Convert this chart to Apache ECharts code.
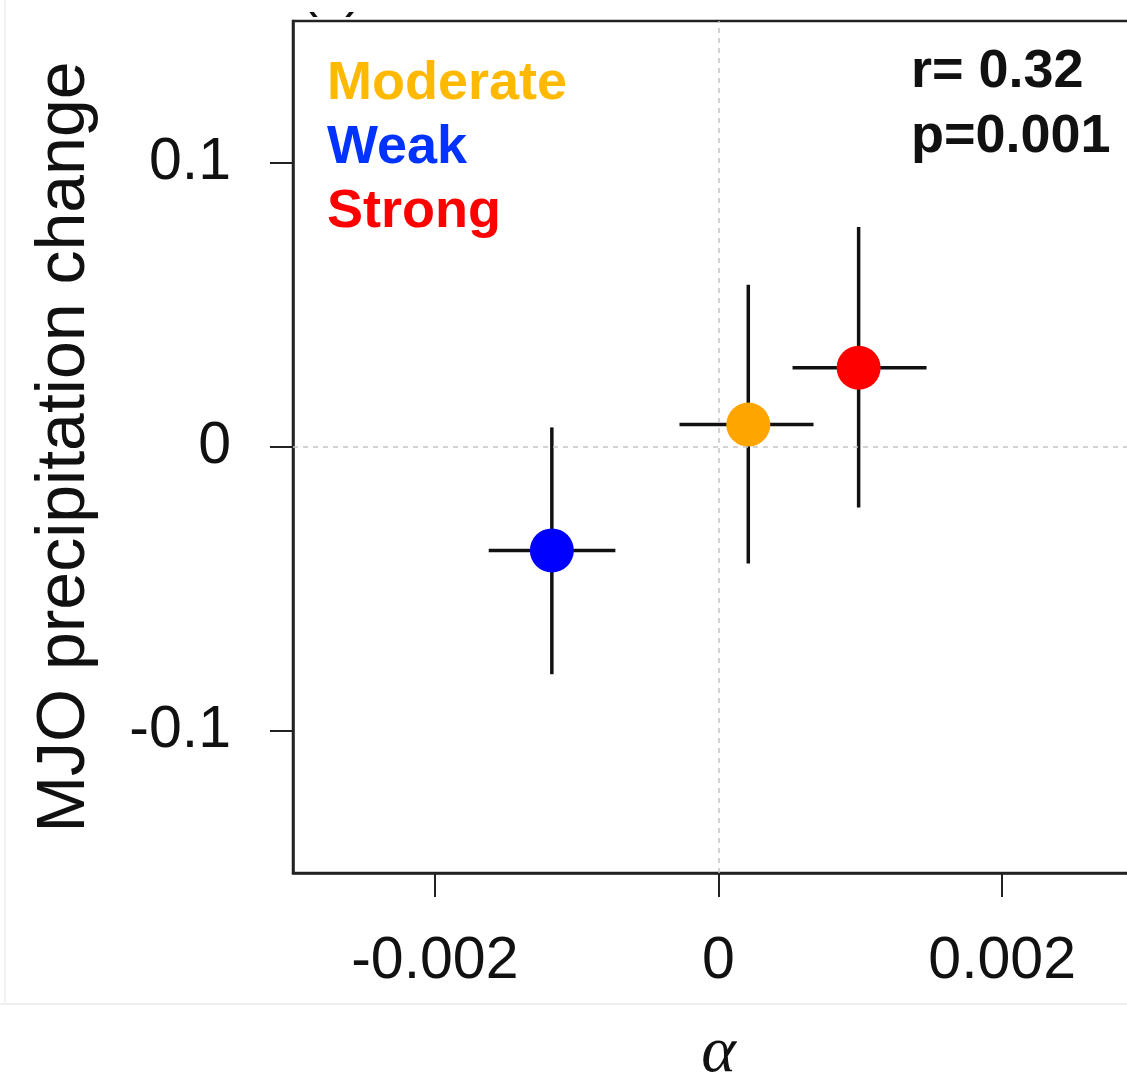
<!DOCTYPE html>
<html>
<head>
<meta charset="utf-8">
<script src="https://cdn.jsdelivr.net/npm/echarts@6/dist/echarts.min.js"></script>
<style>
  html, body { margin: 0; padding: 0; background: #fff; }
  #main { width: 1127px; height: 1076px; }
</style>
</head>
<body>
<div id="main"></div>
<script>
// MJO categories, in plotting order
var categories = ['Weak', 'Moderate', 'Strong']
var pointColors = ['#0000ff', '#ffa500', '#ff0000']

// alpha (x) with its range
var alphaValues = [-0.001175, 0.00021, 0.000988]
var alphaLow = [-0.00162, -0.000275, 0.000522]
var alphaHigh = [-0.000727, 0.00067, 0.001467]

// MJO precipitation change (y) with its range
var precipValues = [-0.0364, 0.0079, 0.0279]
var precipLow = [-0.0800, -0.0410, -0.0213]
var precipHigh = [0.0069, 0.0571, 0.0775]

// tick labels
var xTicks = [-0.002, 0, 0.002]
var yTicks = [-0.1, 0, 0.1]

// annotation text
var legendNames = ['Moderate', 'Weak', 'Strong']
var legendColors = ['#ffb900', '#0033ff', '#ff0000']
var statLines = ['r= 0.32', 'p=0.001']

var FONT = '"Liberation Sans", Arial, Helvetica, sans-serif'

var errData = []
var pointData = []
for (var i = 0; i < categories.length; i++) {
  errData.push([alphaValues[i], precipValues[i], alphaLow[i], alphaHigh[i], precipLow[i], precipHigh[i]])
  pointData.push({
    name: categories[i],
    value: [alphaValues[i], precipValues[i]],
    itemStyle: { color: pointColors[i], opacity: 1 }
  })
}

function renderCross (params, api) {
  var x = api.value(0)
  var y = api.value(1)
  var a = api.coord([api.value(2), y])
  var b = api.coord([api.value(3), y])
  var c = api.coord([x, api.value(4)])
  var d = api.coord([x, api.value(5)])
  var st = { stroke: '#111', lineWidth: 3.5 }
  return {
    type: 'group',
    children: [
      { type: 'line', shape: { x1: a[0], y1: a[1], x2: b[0], y2: b[1] }, style: st },
      { type: 'line', shape: { x1: c[0], y1: c[1], x2: d[0], y2: d[1] }, style: st }
    ]
  }
}

var graphics = []
legendNames.forEach(function (name, k) {
  graphics.push({
    type: 'text', x: 327, y: 84 + k * 64,
    style: { text: name, fill: legendColors[k], font: 'bold 54px ' + FONT, verticalAlign: 'middle' }
  })
})
statLines.forEach(function (s, k) {
  graphics.push({
    type: 'text', x: 911, y: 72 + k * 65,
    style: { text: s, fill: '#111', font: 'bold 54px ' + FONT, verticalAlign: 'middle' }
  })
})
// panel letter, cut off at the top of the picture: only the tips show
graphics.push({
  type: 'text', x: 300, y: 18, z: 1,
  style: { text: '(c)', fill: '#111', font: '54px ' + FONT, verticalAlign: 'bottom' }
})
graphics.push({ type: 'rect', z: 2, shape: { x: 280, y: 0, width: 120, height: 12 }, style: { fill: '#fff' } })
// faint crop edges
graphics.push({ type: 'line', shape: { x1: 0, y1: 1004, x2: 1127, y2: 1004 }, style: { stroke: '#eeeeee', lineWidth: 2 } })
graphics.push({ type: 'line', shape: { x1: 5, y1: 0, x2: 5, y2: 1004 }, style: { stroke: '#f2f2f2', lineWidth: 2 } })

var option = {
  animation: false,
  backgroundColor: '#fff',
  graphic: graphics,
  grid: {
    left: 293,
    top: 21,
    width: 851,
    height: 852,
    containLabel: false,
    outerBoundsMode: 'none',
    show: true,
    borderColor: '#222',
    borderWidth: 2.5
  },
  xAxis: {
    type: 'value',
    min: -0.003,
    max: 0.003,
    name: 'α',
    nameLocation: 'middle',
    nameGap: 148,
    nameTextStyle: { fontFamily: '"Liberation Serif", "DejaVu Serif", serif', fontStyle: 'italic', fontSize: 66, color: '#111' },
    axisLine: { show: true, onZero: false, lineStyle: { color: '#222', width: 2.5 } },
    axisTick: { show: true, length: 24, customValues: xTicks, lineStyle: { color: '#222', width: 2 } },
    axisLabel: {
      customValues: xTicks,
      margin: 59,
      fontFamily: FONT,
      fontSize: 59,
      color: '#111',
      formatter: function (v) { return v === 0 ? '0' : String(+v.toFixed(3)) }
    },
    splitLine: { show: false }
  },
  yAxis: {
    type: 'value',
    min: -0.15,
    max: 0.15,
    name: 'MJO precipitation change',
    nameLocation: 'middle',
    nameRotate: 90,
    nameGap: 194,
    nameTextStyle: { fontFamily: FONT, fontSize: 68, color: '#111' },
    axisLine: { show: true, onZero: false, lineStyle: { color: '#222', width: 2.5 } },
    axisTick: { show: true, length: 23, customValues: yTicks, lineStyle: { color: '#222', width: 2 } },
    axisLabel: {
      customValues: yTicks,
      margin: 62,
      fontFamily: FONT,
      fontSize: 59,
      color: '#111',
      formatter: function (v) { return v === 0 ? '0' : String(+v.toFixed(2)) }
    },
    splitLine: { show: false }
  },
  series: [
    {
      type: 'custom',
      renderItem: renderCross,
      data: errData,
      z: 2,
      markLine: {
        silent: true,
        symbol: 'none',
        label: { show: false },
        lineStyle: { color: '#c4c4c4', type: [5, 5], width: 1.5 },
        data: [{ xAxis: 0 }, { yAxis: 0 }]
      }
    },
    {
      type: 'scatter',
      symbol: 'circle',
      symbolSize: 44,
      data: pointData,
      z: 3
    }
  ]
}

var chart = echarts.init(document.getElementById('main'))
chart.setOption(option)
</script>
</body>
</html>
